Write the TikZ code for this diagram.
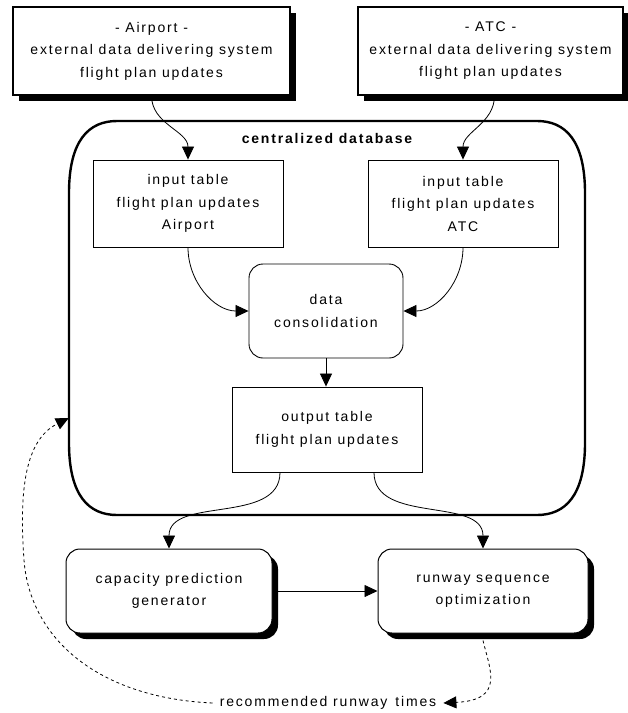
\documentclass[tikz,border=0pt]{standalone}
\usepackage{fontspec}
\setmainfont{Liberation Sans}[LetterSpace=13]
\usetikzlibrary{arrows.meta,shadows}
\tikzset{
  txt/.style={align=center, inner sep=0pt, font=\fontsize{14}{22.5}\selectfont},
  shbox/.style={txt, draw, line width=1.2pt, fill=white,
    drop shadow={opacity=1, fill=black, shadow xshift=6pt, shadow yshift=-6pt}},
  tbox/.style={txt, draw, line width=0.9pt, fill=white},
  rbox/.style={txt, draw, line width=0.9pt, fill=white, rounded corners=14pt},
  srbox/.style={rbox, line width=1pt,
    drop shadow={opacity=1, fill=black, shadow xshift=6pt, shadow yshift=-6pt}},
  arr/.style={line width=0.8pt, -{Triangle[length=13pt,width=12pt]}},
  darr/.style={arr, dash pattern=on 3pt off 3pt},
  dbline/.style={line width=2.4pt, line join=round}
}
\begin{document}
\begin{tikzpicture}[x=1pt,y=1pt]
\useasboundingbox (0,0) rectangle (628,-713);
% external systems
\node[shbox, minimum width=277pt, minimum height=88pt] (airport) at (151.5,-51)
  {- Airport -\\external data delivering system\\flight plan updates};
\node[shbox, minimum width=265pt, minimum height=88pt] (atc) at (490.5,-51)
  {- ATC -\\external data delivering system\\flight plan updates};
% centralized database
\node[minimum width=516pt, minimum height=394pt, inner sep=0pt] (db) at (327,-318) {};
\draw[dbline] (117,-121) -- (537,-121) .. controls (565,-121) and (585,-140) .. (585,-193)
  -- (585,-443) .. controls (585,-496) and (565,-515) .. (537,-515)
  -- (117,-515) .. controls (89,-515) and (69,-496) .. (69,-443)
  -- (69,-193) .. controls (69,-140) and (89,-121) .. (117,-121) -- cycle;
\node[txt, font=\fontsize{14}{16}\bfseries\selectfont] (title) at (327,-138) {centralized database};
\node[tbox, minimum width=190pt, minimum height=87pt] (inA) at (188,-203.5)
  {input table\\flight plan updates\\Airport};
\node[tbox, minimum width=190pt, minimum height=87pt] (inC) at (463,-203.5)
  {input table\\flight plan updates\\ATC};
\node[rbox, minimum width=154pt, minimum height=94pt] (cons) at (326,-311)
  {data\\consolidation};
\node[tbox, minimum width=190pt, minimum height=85pt] (out) at (327,-429.5)
  {output table\\flight plan updates};
% applications
\node[srbox, minimum width=206pt, minimum height=84pt] (cap) at (169,-591)
  {capacity prediction\\generator};
\node[srbox, minimum width=210pt, minimum height=84pt] (run) at (483,-591)
  {runway sequence\\optimization};
\node[txt, inner sep=7pt] (rec) at (328,-703) {recommended runway\, times};
% connectors
\draw[arr] (airport.south) to[out=-90,in=90] (inA.north);
\draw[arr] ([xshift=4pt]atc.south) to[out=-90,in=90] (inC.north);
\draw[arr] (inA.south) to[out=-90,in=180] (cons.west);
\draw[arr] (inC.south) to[out=-90,in=0] (cons.east);
\draw[arr] (cons.south) -- (cons.south |- out.north);
\draw[arr] ([xshift=-47pt]out.south) to[out=-90,in=90] (cap.north);
\draw[arr] ([xshift=47pt]out.south) to[out=-90,in=90] (run.north);
\draw[arr] (cap.east) -- (run.west);
\draw[darr] ([yshift=-7pt]run.south) .. controls (490,-670) and (505,-700) .. (rec.east);
\draw[darr] (rec.west) .. controls (100,-698) and (30,-640) .. (24,-560)
  .. controls (19,-490) and (25,-440) .. ([yshift=-100pt]db.west);
\end{tikzpicture}
\end{document}
